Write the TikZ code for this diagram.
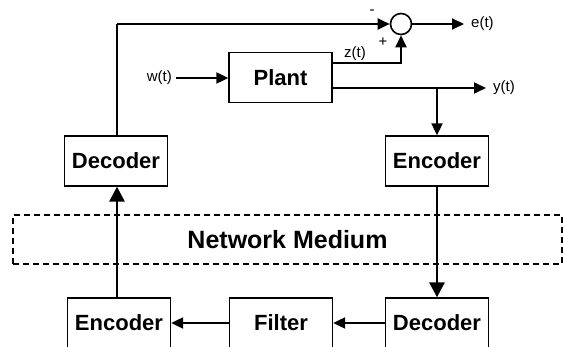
\documentclass[tikz,border=0pt]{standalone}
\usepackage{fontspec}
\setmainfont{Liberation Sans}
\usetikzlibrary{arrows.meta}
\tikzset{
  blk/.style={draw, line width=1.3pt, minimum width=103pt, minimum height=50pt, inner sep=0pt, font=\bfseries\fontsize{22}{26}\selectfont},
  lbl/.style={inner sep=0pt, font=\fontsize{15}{18}\selectfont},
  conn/.style={line width=2pt, -{Triangle[width=11pt,length=12pt]}},
  plain/.style={line width=2pt},
  bigarr/.style={line width=2.8pt, -{Triangle[width=15pt,length=15pt]}},
}
\begin{document}
\begin{tikzpicture}[x=1pt,y=-1pt]
\useasboundingbox (0,0) rectangle (563,347);
% network medium
\node[draw, dash pattern=on 6pt off 4pt, line width=1.3pt, minimum width=549pt, minimum height=49pt, inner sep=0pt,
      font=\bfseries\fontsize{25}{30}\selectfont] (net) at (287.5,239.5) {Network Medium};
% blocks
\node[blk] (plant) at (280.5,77.5) {Plant};
\node[blk] (dec1) at (116,161) {Decoder};
\node[blk] (enc1) at (437,161) {Encoder};
\node[blk] (enc2) at (119,323) {Encoder};
\node[blk] (filt) at (281,323) {Filter};
\node[blk] (dec2) at (437,323) {Decoder};
% summing junction
\node[circle, draw, line width=1.6pt, minimum size=21pt, inner sep=0pt] (sum) at (401,24) {};
\node[lbl] (minus) at (372,12) {-};
\node[lbl] (plus) at (383,42) {+};
% labels
\node[lbl, anchor=east] (wl) at (172,78) {w(t)};
\node[lbl] (zl) at (355,54) {z(t)};
\coordinate (eend) at (464,24);
\node[lbl, anchor=west] (el) at (471,24) {e(t)};
\coordinate (yend) at (486,88);
\node[lbl, anchor=west] (yl) at (493,88) {y(t)};
% connectors
\coordinate (topleft) at (117,24);
\draw[plain] (dec1.north -| topleft) -- (topleft);
\draw[conn] (topleft) -- (sum.west);
\draw[conn] (sum.east) -- (eend);
\draw[conn] ([xshift=4pt]wl.east) -- (plant.west |- wl.east);
\coordinate (zstart) at (plant.east |- 0,63);
\draw[conn] (zstart) -| (sum.south);
\coordinate (ystart) at (plant.east |- 0,88);
\draw[conn] (ystart) -- (yend);
\coordinate (br) at (enc1.north |- 0,88);
\draw[conn] (br) -- (enc1.north);
\draw[bigarr] (enc1.south) -- (dec2.north);
\draw[conn] (dec2.west) -- (filt.east);
\draw[conn] (filt.west) -- (enc2.east);
\coordinate (upx) at (117,0);
\draw[bigarr] (enc2.north -| upx) -- (dec1.south -| upx);
\end{tikzpicture}
\end{document}
